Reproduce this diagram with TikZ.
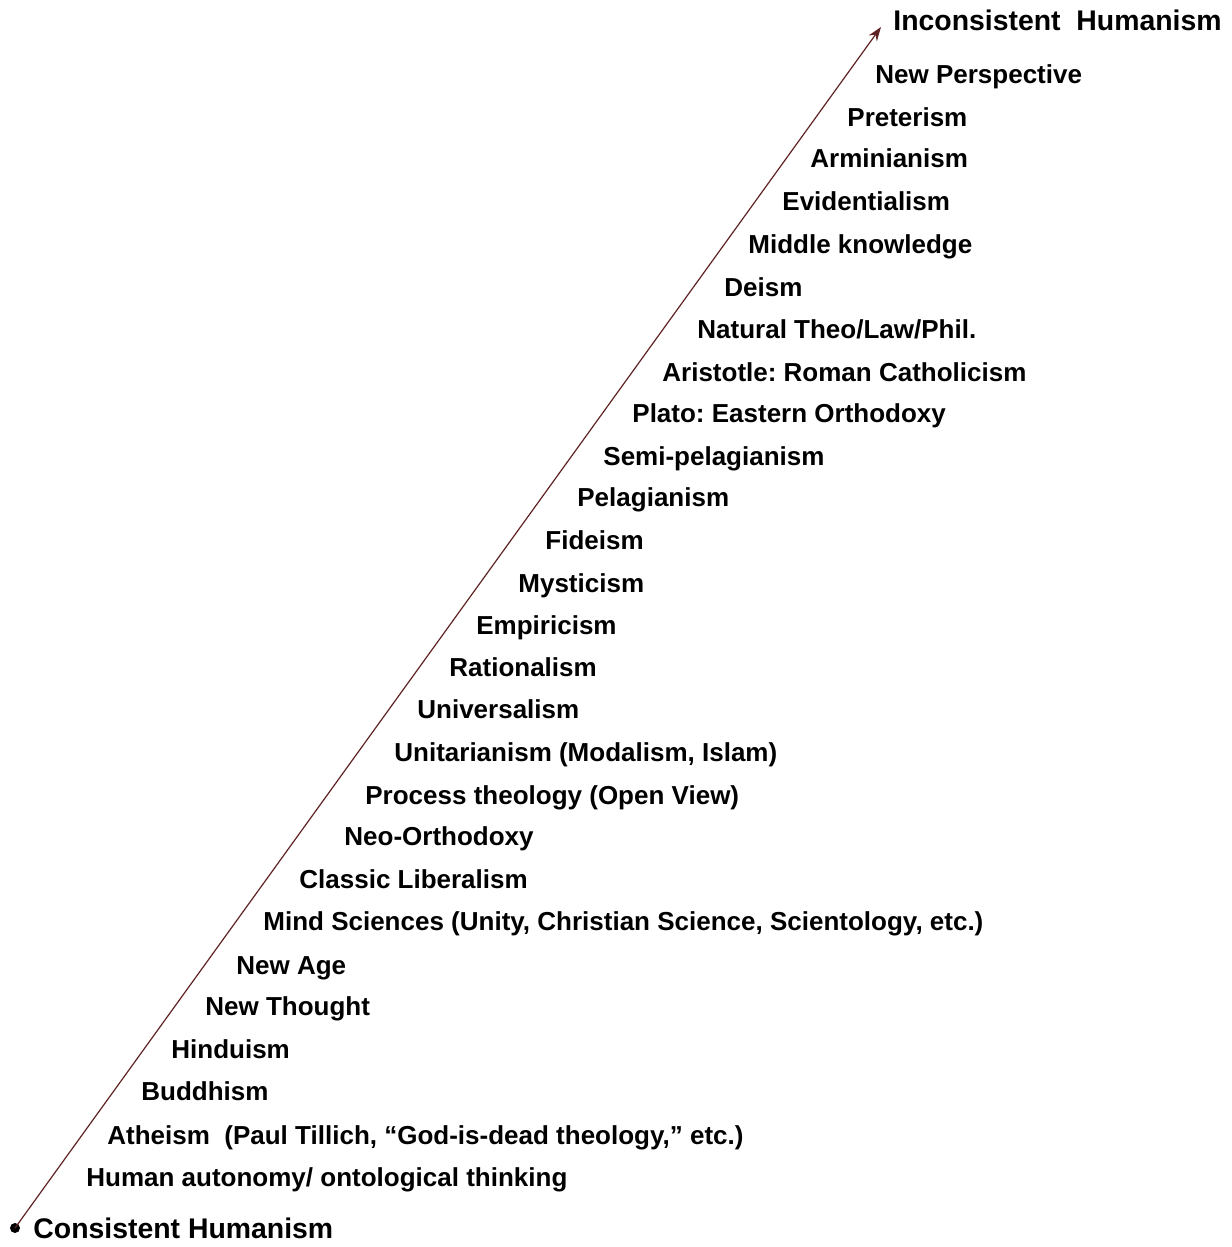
\documentclass[tikz,border=0pt]{standalone}
\usepackage{fontspec}
\setmainfont{Liberation Sans}
\usepackage{tikz}
\usetikzlibrary{arrows.meta}
\frenchspacing

\definecolor{axisred}{RGB}{95,35,35}

\tikzset{
  item/.style={anchor=west, inner sep=0pt, text height=1.7ex, text depth=0pt,
    font=\fontsize{13}{15}\selectfont\bfseries},
  pole/.style={item, font=\fontsize{14.2}{16}\selectfont\bfseries}
}

\begin{document}
\begin{tikzpicture}[x=0.5pt, y=-0.5pt]
\useasboundingbox (0,0) rectangle (1231,1247);

\node[pole] (top) at (893, 22) {Inconsistent\ \ Humanism};
\node[item] (newpersp) at (875, 75) {New Perspective};
\node[item] (preterism) at (847, 118) {Preterism};
\node[item] (arminian) at (810, 159) {Arminianism};
\node[item] (evidential) at (782, 202) {Evidentialism};
\node[item] (middle) at (748, 245) {Middle knowledge};
\node[item] (deism) at (724, 288) {Deism};
\node[item] (natural) at (697, 330) {Natural Theo/Law/Phil.};
\node[item] (aristotle) at (662, 373) {Aristotle: Roman Catholicism};
\node[item] (plato) at (632, 414) {Plato: Eastern Orthodoxy};
\node[item] (semipel) at (603, 457) {Semi-pelagianism};
\node[item] (pelagian) at (577, 498) {Pelagianism};
\node[item] (fideism) at (545, 541) {Fideism};
\node[item] (mysticism) at (518, 584) {Mysticism};
\node[item] (empiricism) at (476, 626) {Empiricism};
\node[item] (rational) at (449, 668) {Rationalism};
\node[item] (universal) at (417, 710) {Universalism};
\node[item] (unitarian) at (394, 753) {Unitarianism (Modalism, Islam)};
\node[item] (process) at (365, 796) {Process theology (Open View)};
\node[item] (neoorth) at (344, 837) {Neo-Orthodoxy};
\node[item] (liberal) at (299, 880) {Classic Liberalism};
\node[item] (mindsci) at (263, 922) {Mind Sciences (Unity, Christian Science, Scientology, etc.)};
\node[item] (newage) at (236, 966) {New Age};
\node[item] (newthought) at (205, 1007) {New Thought};
\node[item] (hindu) at (171, 1050) {Hinduism};
\node[item] (buddhism) at (141, 1092) {Buddhism};
\node[item] (atheism) at (107, 1136) {Atheism\ \ (Paul Tillich, “God-is-dead theology,” etc.)};
\node[item] (autonomy) at (86, 1178) {Human autonomy/ ontological thinking};
\node[pole] (bottom) at (33, 1230) {Consistent Humanism};

% the scale from consistent to inconsistent
\node[circle, fill=black, inner sep=0pt, minimum size=5pt] (start) at (15, 1228) {};
\coordinate (tip) at (881, 27);
\draw[axisred, line width=0.6pt, -{Stealth[length=7pt, width=5pt]}] (start.center) -- (tip);
\end{tikzpicture}
\end{document}
